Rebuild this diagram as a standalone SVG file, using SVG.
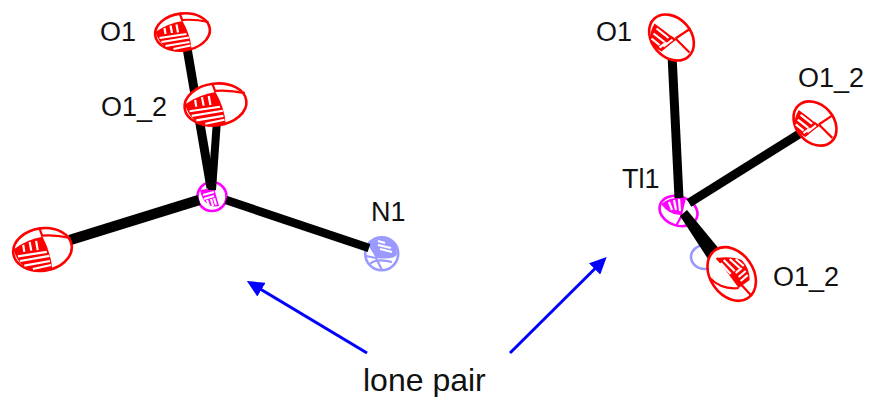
<svg xmlns="http://www.w3.org/2000/svg" xmlns:xlink="http://www.w3.org/1999/xlink" width="869" height="397" viewBox="0 0 869 397">
<style>
text{font-family:"Liberation Sans",Arial,sans-serif;font-size:27px;fill:#111}
.big{font-size:32px}
.bond{stroke:#000;fill:none}
.arrow{stroke:#0000ff;stroke-width:3;fill:none;marker-end:url(#head)}
.o{color:#ff0000}
.t{color:#ff00ff}
.n{color:#9999ff}
.out{fill:#fff;stroke:currentColor;stroke-width:2.600;vector-effect:non-scaling-stroke}
.ln{fill:none;stroke:currentColor;stroke-width:2.200;vector-effect:non-scaling-stroke}
.fill{fill:currentColor}
.h{fill:none;stroke:#fff;stroke-width:2.200;vector-effect:non-scaling-stroke}
</style>
<defs>
<marker id="head" markerUnits="userSpaceOnUse" viewBox="0 0 17 16" markerWidth="17" markerHeight="16" refX="11" refY="8" orient="auto"><path d="M0,0L17,8L0,16Z" fill="#0000ff"/></marker>
<g id="ellA">
<ellipse class="out" rx="27.500" ry="18.500" transform="rotate(-7)"/>
<path class="fill" d="M-27,0Q-14,-9 0,-11Q8,3 9,17Q-20,24 -27,0Z"/>
<path class="ln" d="M-3,-19L0,-11M0,-12Q12,-13 26,-10"/>
<path class="h" d="M-18,-4L-17,2M-12,-6.500L-10.500,1M-6,-7.500L-4.500,.500M-23,6L4,2M-21,10L6.500,5.500M-17,14L7,10M-9,17L8,13.500"/>
</g>
<g id="ellB">
<ellipse class="out" rx="25.500" ry="19.500" transform="rotate(48)"/>
<path class="fill" d="M-17,-14L5,2L-10,14Q-28,5 -17,-14Z"/>
<path class="ln" d="M4,1L18,15M4,1L19,-9"/>
<path class="h" d="M-15,-9L-3,.500M-18,-4L-7,4.500M-20,1L-12,7.500M-12,-12.500L0,-2.500M-8,9L1,2M-5,11.500L3,5M-12,10L-5,5"/>
</g>
</defs>
<g id="atom-left-Tl" class="t">
<circle class="out" cx="212" cy="196.500" r="14.500"/>
<path class="fill" d="M200,190L214,188L219,206Q204,209 200,190Z"/>
<path class="h" d="M203,195L214,192M204,199L214,196M207,200L209,206M211,199L213,206M214,198L216,205"/>
</g>
<g id="atom-left-N1" class="n">
<circle class="out" cx="381.700" cy="253.700" r="16.500"/>
<path class="fill" d="M368,245Q375,238 382,238Q397,240 397,254Q395,260 376,258Z"/>
<path class="ln" d="M376,258L366,256M376,258L382,270M370,264Q376,258 392,262"/>
<path class="h" d="M378,241L385,243M378,245L391,248M380,249L392,252"/>
</g>
<g id="atom-right-N" class="n"><ellipse class="out" cx="705" cy="257" rx="14" ry="12"/></g>
<g id="atom-right-Tl" class="t">
<ellipse class="out" cx="678.500" cy="211" rx="19.500" ry="14.500" transform="rotate(20 678.500 211)"/>
<path class="fill" d="M661,204Q672,196 686,198L682,215Q670,216 661,204Z"/>
<path class="ln" d="M676,226L682,215"/>
<path class="h" d="M669,202L672,210M674,200L676,210M679,199L680,211"/>
</g>
<g id="connectors">
<path class="bond" stroke-width="9" d="M187,48L211,188"/>
<path class="bond" stroke-width="8" d="M217,120L212,190"/>
<path class="bond" stroke-width="10.500" d="M70,240L199,200"/>
<path class="bond" stroke-width="8.500" d="M226,200L369,248"/>
<path class="bond" stroke-width="9" d="M672,55L679,198"/>
<path class="bond" stroke-width="9" d="M804,131L689,203"/>
<polygon fill="#000" points="680,216 687,210 720,250 708,259"/>
<line class="arrow" x1="367" y1="353" x2="252" y2="284"/>
<line class="arrow" x1="510" y1="353" x2="602.400" y2="261.200"/>
</g>
<g id="atom-left-O1" class="o" transform="translate(182.500,32)"><use xlink:href="#ellA"/></g>
<g id="atom-left-O1_2" class="o" transform="translate(215.500,104.500) scale(1.130)"><use xlink:href="#ellA"/></g>
<g id="atom-left-O3" class="o" transform="translate(42.500,249.500) scale(1.070,1.150)"><use xlink:href="#ellA"/></g>
<g id="atom-right-O1" class="o" transform="translate(671.500,37.500)"><use xlink:href="#ellB"/></g>
<g id="atom-right-O1_2a" class="o" transform="translate(815,123.500) scale(.960)"><use xlink:href="#ellB"/></g>
<g id="atom-right-O1_2b" class="o" transform="translate(731.700,274)">
<ellipse class="out" rx="29" ry="21.500" transform="rotate(55)"/>
<path class="fill" d="M-15,-16Q0,-18 10,-14Q18,-6 18,6L7,14Z"/>
<path class="ln" d="M-15,-16L20,22M-22,4Q-10,16 7,14"/>
<path class="h" d="M-8,-14L3,-3M-2,-15L8,-6M4,-15L12,-8M-11,-11L-1,0M9,7L16,1M7,3L14,-3M4,-1L10,-6"/>
</g>
<g id="labels">
<text x="100" y="41">O1</text>
<text x="101" y="116">O1_2</text>
<text x="371" y="221">N1</text>
<text x="596" y="41">O1</text>
<text x="798" y="87">O1_2</text>
<text x="622" y="188">Tl1</text>
<text x="773" y="286">O1_2</text>
<text class="big" x="363" y="391">lone pair</text>
</g>
</svg>
